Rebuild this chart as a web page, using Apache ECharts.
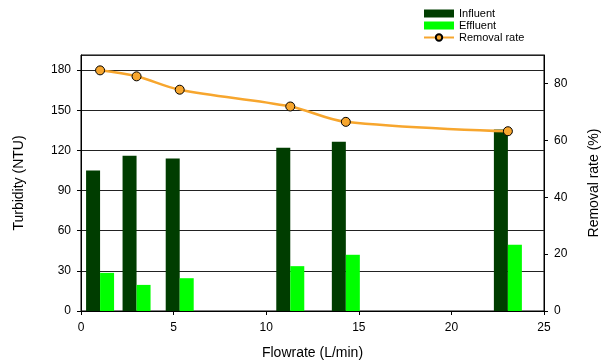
<!DOCTYPE html>
<html><head><meta charset="utf-8">
<script src="https://cdn.jsdelivr.net/npm/echarts@6/dist/echarts.min.js"></script>
<style>html,body{margin:0;padding:0;background:#fff}#c{width:602px;height:360px}</style>
</head><body><div id="c"></div>
<script>
const flowrate = [1.03, 3.0, 5.33, 11.3, 14.3, 23.05];
const influent = [105, 116, 114, 122, 126.5, 135.5];
const effluent = [28.5, 19.5, 24.5, 33.5, 42, 49.5];
const removalRate = [84.6, 82.5, 77.8, 71.9, 66.5, 63.2];

const chart = echarts.init(document.getElementById('c'));
const font = 'Liberation Sans, Arial, sans-serif';
chart.setOption({
  animation: false,
  textStyle: {fontFamily: font},
  legend: {
    orient: 'vertical', left: 423, top: 8, padding: 0, itemWidth: 30, itemHeight: 8, itemGap: 1,
    textStyle: {fontSize: 11, color: '#000', fontFamily: font},
    data: [{name: 'Influent', icon: 'rect'}, {name: 'Effluent', icon: 'rect'}, {name: 'Removal rate'}]
  },
  grid: {left: 81, right: 58, top: 55, bottom: 49, outerBoundsMode: 'none', containLabel: false,
    show: true, borderColor: '#000', borderWidth: 1},
  xAxis: {
    type: 'value', min: 0, max: 25, interval: 5,
    name: 'Flowrate (L/min)', nameLocation: 'middle', nameGap: 35,
    nameTextStyle: {fontSize: 14, color: '#000', fontFamily: font},
    axisLine: {lineStyle: {color: '#000'}},
    axisTick: {show: true, length: 4, lineStyle: {color: '#000'}},
    axisLabel: {fontSize: 12, color: '#000', margin: 11, fontFamily: font},
    splitLine: {show: false}
  },
  yAxis: [{
    type: 'value', min: 0, max: 191.25, interval: 30,
    name: 'Turbidity (NTU)', nameLocation: 'middle', nameGap: 55,
    nameTextStyle: {fontSize: 14, color: '#000', fontFamily: font},
    axisLine: {show: true, lineStyle: {color: '#000'}},
    axisTick: {show: true, length: 4, lineStyle: {color: '#000'}},
    axisLabel: {fontSize: 12, color: '#000', margin: 10, showMaxLabel: false, fontFamily: font},
    splitLine: {show: true, lineStyle: {color: '#222', width: 1}}
  }, {
    type: 'value', min: 0, max: 90, interval: 20, position: 'right',
    name: 'Removal rate (%)', nameLocation: 'middle', nameGap: 43, nameRotate: 90,
    nameTextStyle: {fontSize: 14, color: '#000', fontFamily: font},
    axisLine: {show: true, lineStyle: {color: '#000'}},
    axisTick: {show: true, length: 4, lineStyle: {color: '#000'}},
    axisLabel: {fontSize: 12, color: '#000', margin: 10, showMaxLabel: false, fontFamily: font},
    splitLine: {show: false}
  }],
  series: [{
    name: 'Influent', type: 'bar', yAxisIndex: 0, barWidth: 14, barGap: '0%',
    itemStyle: {color: '#003d00'},
    data: flowrate.map((x, i) => [x, influent[i]])
  }, {
    name: 'Effluent', type: 'bar', yAxisIndex: 0, barWidth: 14, barGap: '0%',
    itemStyle: {color: '#00ff00'},
    data: flowrate.map((x, i) => [x, effluent[i]])
  }, {
    name: 'Removal rate', type: 'line', yAxisIndex: 1, smooth: 0.35,
    symbol: 'circle', symbolSize: 9,
    lineStyle: {color: '#f7a62e', width: 2.5},
    itemStyle: {color: '#f7a62e', borderColor: '#000', borderWidth: 1},
    data: flowrate.map((x, i) => [x, removalRate[i]]),
    z: 5
  }]
});
</script></body></html>
